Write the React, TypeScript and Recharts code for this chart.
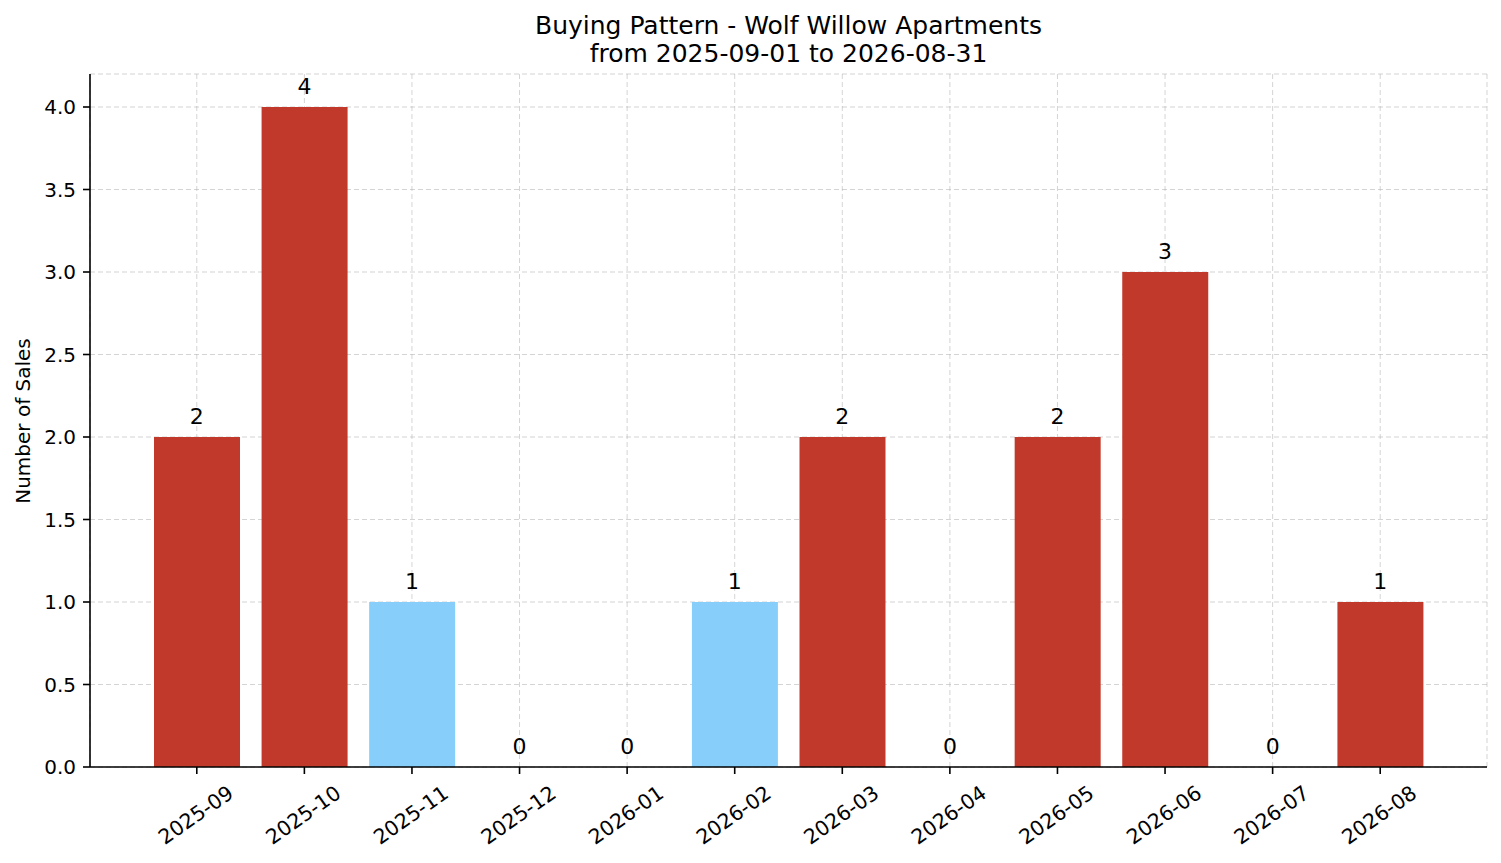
import React from 'react';
import { ComposedChart, Bar, Line, XAxis, YAxis, CartesianGrid, Cell, LabelList } from 'recharts';

const months = ['2025-09', '2025-10', '2025-11', '2025-12', '2026-01', '2026-02', '2026-03', '2026-04', '2026-05', '2026-06', '2026-07', '2026-08'];
const sales = [2, 4, 1, 0, 0, 1, 2, 0, 2, 3, 0, 1];
const RED = '#c0392b';
const BLUE = '#87cefa';
const barColors = [RED, RED, BLUE, RED, RED, BLUE, RED, RED, RED, RED, RED, RED];
const yTicks = [0, 0.5, 1, 1.5, 2, 2.5, 3, 3.5, 4];
const titleLine1 = 'Buying Pattern - Wolf Willow Apartments';
const titleLine2 = 'from 2025-09-01 to 2026-08-31';
const yLabel = 'Number of Sales';

const data = months.map((m, i) => ({ month: m, sales: sales[i], color: barColors[i] }));

const FONT = '"DejaVu Sans", sans-serif';

const XTick = (props: any) => {
  const { x, y, payload } = props;
  const cx = x - 1;
  const cy = y + 41;
  return (
    <text
      x={cx}
      y={cy}
      textAnchor="middle"
      dominantBaseline="central"
      fontSize={20.5}
      fontFamily={FONT}
      fill="#000"
      transform={`rotate(-35, ${cx}, ${cy})`}
    >
      {payload.value}
    </text>
  );
};

const PointValueLabel = (props: any) => {
  const { x, y, value } = props;
  return (
    <text
      x={Number(x)}
      y={Number(y) - 13.5}
      textAnchor="middle"
      fontSize={22}
      fontFamily={FONT}
      fill="#000"
    >
      {value}
    </text>
  );
};

export default function App() {
  return (
    <div style={{ position: 'fixed', left: 0, top: 0, width: 1501, height: 863, background: '#fff', fontFamily: FONT }}>
      <div
        style={{
          position: 'absolute',
          left: 90,
          width: 1397,
          top: 11.5,
          textAlign: 'center',
          fontSize: 25,
          lineHeight: '28.5px',
          color: '#000',
        }}
      >
        <div>{titleLine1}</div>
        <div>{titleLine2}</div>
      </div>
      <div
        style={{
          position: 'absolute',
          left: 23,
          top: 421,
          fontSize: 20,
          color: '#000',
          whiteSpace: 'nowrap',
          transform: 'translate(-50%, -50%) rotate(-90deg)',
        }}
      >
        {yLabel}
      </div>
      <ComposedChart
        width={1501}
        height={863}
        data={data}
        margin={{ top: 74, right: 14, bottom: 0, left: 0 }}
        style={{ position: 'absolute', left: 0, top: 0 }}
      >
        <XAxis
          dataKey="month"
          height={96}
          padding={{ left: 53, right: 53 }}
          tick={<XTick />}
          tickSize={7}
          tickMargin={0}
          interval={0}
          axisLine={{ stroke: '#000', strokeWidth: 1.6 }}
          tickLine={{ stroke: '#000', strokeWidth: 1.6 }}
        />
        <YAxis
          width={90}
          domain={[0, 4.2]}
          ticks={yTicks}
          tickFormatter={(v: number) => v.toFixed(1)}
          tickSize={7}
          tickMargin={7}
          tick={{ fontSize: 20, fontFamily: FONT, fill: '#000' }}
          axisLine={{ stroke: '#000', strokeWidth: 1.6 }}
          tickLine={{ stroke: '#000', strokeWidth: 1.6 }}
          allowDataOverflow
        />
        <Bar dataKey="sales" barSize={86} isAnimationActive={false}>
          {data.map((d, i) => (
            <Cell key={i} fill={d.color} />
          ))}
        </Bar>
        <Line
          dataKey="sales"
          stroke="none"
          dot={false}
          activeDot={false}
          legendType="none"
          isAnimationActive={false}
        >
          <LabelList dataKey="sales" content={<PointValueLabel />} />
        </Line>
        <CartesianGrid stroke="#b0b0b0" strokeOpacity={0.55} strokeDasharray="5 3" strokeWidth={1} />
      </ComposedChart>
    </div>
  );
}
